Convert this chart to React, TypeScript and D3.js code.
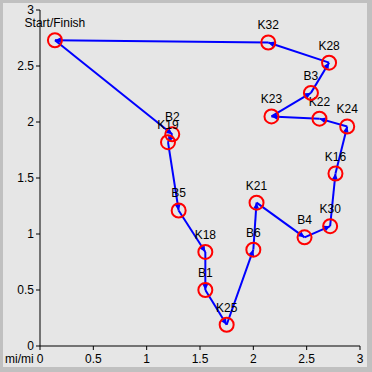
import React from "react";
import * as d3 from "d3";

const names = ["Start/Finish","B2","K19","B5","K18","B1","K25","B6","K21","B4","K30","K16","K24","K22","K23","B3","K28","K32"];
const xs = [0.14,1.24,1.2,1.3,1.55,1.55,1.75,2.0,2.03,2.48,2.72,2.77,2.88,2.62,2.17,2.54,2.71,2.14];
const ys = [2.73,1.89,1.82,1.21,0.84,0.5,0.19,0.86,1.28,0.97,1.07,1.54,1.96,2.03,2.05,2.26,2.53,2.71];
const xTicks = [0,0.5,1,1.5,2,2.5,3];
const yTicks = [0,0.5,1,1.5,2,2.5,3];

export default function App() {
  const W = 372, H = 372;
  const x = d3.scaleLinear().domain([0, 3]).range([40, 360]);
  const y = d3.scaleLinear().domain([0, 3]).range([346, 10]);
  const pts = names.map((n, i) => ({ n, x: x(xs[i]), y: y(ys[i]) }));
  const route = [...pts, pts[0]];
  const font = "'Liberation Sans', Arial, sans-serif";
  return (
    <svg width={W} height={H} style={{ position: "fixed", left: 0, top: 0, display: "block" }} fontFamily={font}>
      <defs>
        <marker id="arr" markerWidth="8" markerHeight="8" refX="6" refY="3" orient="auto" markerUnits="userSpaceOnUse">
          <path d="M0,0 L6,3 L0,6 Z" fill="#0000ff" />
        </marker>
      </defs>
      <rect x={0} y={0} width={W} height={H} fill="#c0c0c0" />
      <rect x={3} y={3} width={W - 8} height={H - 8} fill="#e6e6e6" />
      <line x1={40} x2={40} y1={y(3)} y2={y(0)} stroke="#000" strokeWidth={1} />
      <line x1={40} x2={x(3)} y1={346} y2={346} stroke="#000" strokeWidth={1} />
      {yTicks.map((t) => (
        <g key={"y" + t}>
          <line x1={36} x2={40} y1={y(t)} y2={y(t)} stroke="#000" />
          <text x={34} y={y(t) + 4} textAnchor="end" fontSize={12}>{t}</text>
        </g>
      ))}
      {xTicks.map((t) => (
        <g key={"x" + t}>
          <line x1={x(t)} x2={x(t)} y1={346} y2={350} stroke="#000" />
          <text x={x(t)} y={363} textAnchor="middle" fontSize={12}>{t}</text>
        </g>
      ))}
      <text x={5} y={363} fontSize={12}>mi/mi</text>
      {route.slice(0, -1).map((p, i) => (
        <line key={"s" + i} x1={p.x} y1={p.y} x2={route[i + 1].x} y2={route[i + 1].y}
          stroke="#0000ff" strokeWidth={2} markerEnd="url(#arr)" />
      ))}
      {pts.map((p) => (
        <g key={p.n}>
          <circle cx={p.x} cy={p.y} r={7} fill="none" stroke="#ff0000" strokeWidth={2} />
          <text x={p.x} y={p.y - 13} textAnchor="middle" fontSize={12}>{p.n}</text>
        </g>
      ))}
    </svg>
  );
}
